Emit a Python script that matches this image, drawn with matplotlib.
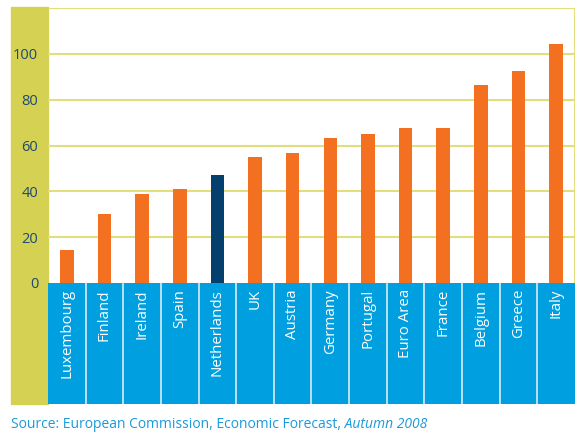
import matplotlib.pyplot as plt
from matplotlib.patches import Rectangle

plt.rcParams['font.family'] = ['Open Sans', 'DejaVu Sans']

paises = ['Luxembourg', 'Finland', 'Ireland', 'Spain', 'Netherlands', 'UK', 'Austria',
          'Germany', 'Portugal', 'Euro Area', 'France', 'Belgium', 'Greece', 'Italy']
divida = [14.5, 30.1, 38.9, 41.0, 47.2, 55.0, 56.8, 63.3, 65.0, 67.7, 67.6, 86.5, 92.6, 104.4]
destaque = 'Netherlands'
yticks = [0, 20, 40, 60, 80, 100]

W, H = 576, 437
fig = plt.figure(figsize=(W / 100, H / 100), dpi=100)

verde = '#d5d153'
laranja = '#f37021'
azul_escuro = '#053f6e'
azul = '#009fdf'
grade = '#e3de7c'

# faixa amarela da esquerda
fig.patches.append(Rectangle((11 / W, 1 - 404 / H), 37 / W, 397 / H,
                             transform=fig.transFigure, color=verde, zorder=-5))

x0, x1 = 48 / W, 575 / W
ax = fig.add_axes([x0, 1 - 283 / H, x1 - x0, 275 / H])
ax.patch.set_alpha(0)
cores = [azul_escuro if p == destaque else laranja for p in paises]
ax.bar(range(len(paises)), divida, width=0.36, color=cores, zorder=3)
ax.set_xlim(-0.5, len(paises) - 0.5)
ax.set_ylim(0, 120)
for v in yticks[1:] + [120]:
    ax.axhline(v, color=grade, lw=1.5, zorder=1)
ax.axvline(len(paises) - 0.5, color=grade, lw=1.5)
for s in ax.spines.values():
    s.set_visible(False)
ax.set_xticks([])
ax.set_yticks(yticks)
ax.tick_params(axis='y', length=0, pad=7, labelsize=10.5, labelcolor='#1d4a72')

# faixa azul com os nomes
ax2 = fig.add_axes([x0, 1 - 404 / H, x1 - x0, 121 / H])
ax2.set_xlim(-0.5, len(paises) - 0.5)
ax2.set_ylim(0, 1)
ax2.axis('off')
ax2.add_patch(Rectangle((-0.5, 0), len(paises), 1, color=azul, zorder=0))
for i in range(1, len(paises)):
    ax2.axvline(i - 0.5, color='#d8eef9', lw=1.2)
for i, p in enumerate(paises):
    ax2.text(i, 0.95, p, rotation=90, ha='center', va='top', color='white', fontsize=10.8)

t = fig.text(11 / W, 1 - 425 / H, 'Source: European Commission, Economic Forecast,',
             color='#1b9ad8', fontsize=10, va='center')
ax.annotate(' Autumn 2008', xy=(1, 0.5), xycoords=t, va='center', ha='left',
            color='#1b9ad8', fontsize=10, style='italic', annotation_clip=False)

fig.savefig('out.png', dpi=100)
